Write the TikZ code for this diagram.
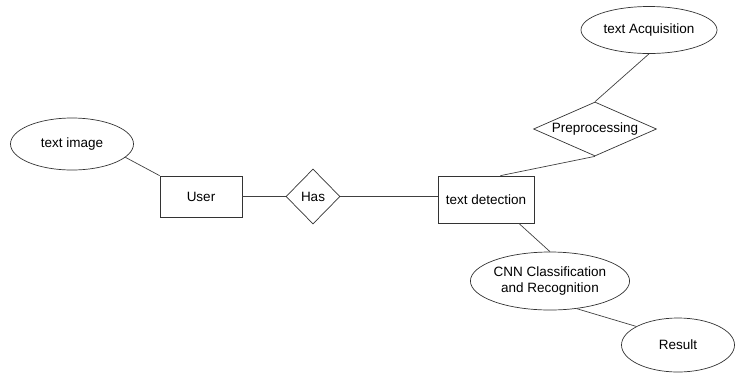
\documentclass[tikz,border=0pt]{standalone}
\usepackage{fontspec}
\setmainfont{Liberation Sans}
\usetikzlibrary{shapes.geometric}

\begin{document}
\begin{tikzpicture}[
        x = 1pt, y = -1pt,
        font = \fontsize{13.5}{15.5}\selectfont,
        entity/.style = {
            draw = black!80,
            line width = 0.7pt,
            rectangle,
            minimum width = 82pt,
            minimum height = #1,
            inner sep = 0pt
        },
        entity/.default = 41pt,
        attr/.style 2 args = {
            draw = black!80,
            line width = 0.7pt,
            ellipse,
            minimum width = #1,
            minimum height = #2,
            inner sep = 0pt,
            align = center
        },
        rel/.style = {
            draw = black!80,
            line width = 0.7pt,
            diamond,
            aspect = #1,
            inner sep = 0pt
        },
        rel/.default = 1,
        link/.style = {line width = 0.7pt, black!75}
    ]
    \useasboundingbox (0,0) rectangle (736,373);

    \node[attr={123pt}{52pt}] (image) at (72,144) {text image};
    \node[entity] (user) at (201,196.5) {User};
    \node[rel, minimum width=54pt, minimum height=55pt] (has) at (313,196.5) {Has};
    \node[entity=47pt, minimum width=96pt] (detect) at (486,199.5) {text detection};
    \node[rel=2.3, minimum width=123pt, minimum height=54pt] (prep) at (595,129) {Preprocessing};
    \node[attr={136pt}{47pt}] (acq) at (649,30) {text Acquisition};
    \node[attr={134pt}{58pt}] (cnn) at (550,281) {CNN Classification\\and Recognition};
    \node[attr={113pt}{54pt}] (result) at (678,345) {Result};

    \draw[link] (image.-14) -- (user.north west);
    \draw[link] (user.east) -- (has.west);
    \draw[link] (has.east) -- (has.east -| detect.west);

    \draw[link] (detect.59) -- (prep.south);
    \draw[link] (prep.north) -- (acq.south);

    \draw[link] (detect.-36) -- (cnn.north);
    \draw[link] (cnn.-46) -- (result.156);

\end{tikzpicture}
\end{document}
